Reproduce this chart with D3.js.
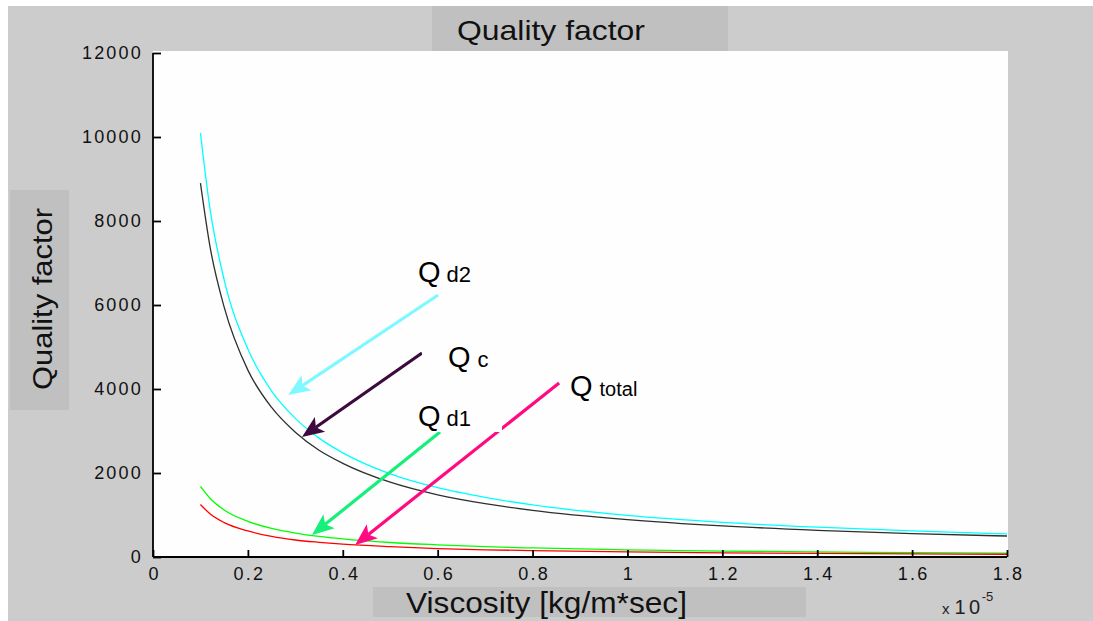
<!DOCTYPE html>
<html><head><meta charset="utf-8">
<script src="https://cdn.jsdelivr.net/npm/d3@7/dist/d3.min.js"></script>
<style>html,body{margin:0;padding:0;background:#cccccc;overflow:hidden}svg{display:block}</style>
</head><body><svg id="c" width="1093" height="621"></svg>
<script>
// ---- data ----
const viscosity = [0.1, 0.12, 0.15, 0.2, 0.25, 0.3, 0.35, 0.4, 0.5, 0.6, 0.7, 0.8, 1.0, 1.2, 1.4, 1.6, 1.8]; // x 10^-5
const qd2    = [10100, 8300, 6600, 4950, 3950, 3300, 2830, 2480, 1980, 1650, 1420, 1240, 990, 825, 710, 620, 550];
const qc     = [8900, 7400, 5950, 4450, 3560, 2970, 2540, 2230, 1780, 1480, 1270, 1110, 890, 740, 635, 555, 500];
const qd1    = [1680, 1400, 1120, 850, 680, 570, 490, 430, 345, 290, 245, 215, 170, 140, 120, 105, 90];
const qtotal = [1250, 1030, 820, 620, 490, 405, 350, 305, 245, 200, 172, 150, 120, 100, 85, 75, 65];
const xTicks = [0, 0.2, 0.4, 0.6, 0.8, 1, 1.2, 1.4, 1.6, 1.8];
const yTicks = [0, 2000, 4000, 6000, 8000, 10000, 12000];
const titleText = "Quality factor";
const xLabel = "Viscosity [kg/m*sec]";
const yLabel = "Quality factor";
// annotation arrows: label, subscript, arrow start -> tip (data coords)
const annoNames = ["Q d2", "Q c", "Q d1", "Q total"];
const annoStart = [[0.601, 6238], [0.567, 4857], [0.605, 2976], [0.856, 4143]];
const annoTip   = [[0.285, 3857], [0.314, 2857], [0.335, 524], [0.426, 286]];

const svg = d3.select("#c");
const x = d3.scaleLinear().domain([0, 1.8]).range([153, 1007]);
const y = d3.scaleLinear().domain([0, 12000]).range([557, 53]);
const FONT = "Liberation Sans, Arial, sans-serif";

// background
svg.append("rect").attr("x", 0).attr("y", 0).attr("width", 1093).attr("height", 621).attr("fill", "#ffffff");
svg.append("rect").attr("x", 8).attr("y", 6).attr("width", 1085).attr("height", 615).attr("fill", "#cccccc");
// plot area
svg.append("rect").attr("x", x(0)).attr("y", 51).attr("width", x(1.8) - x(0) + 1).attr("height", y(0) - 51).attr("fill", "#fefefe");

// title box
svg.append("rect").attr("x", 432).attr("y", 6).attr("width", 296).attr("height", 45).attr("fill", "#c0c0c0");
svg.append("text").attr("x", 457).attr("y", 40).attr("font-family", FONT)
  .attr("font-size", 28).attr("fill", "#111").attr("textLength", 188).attr("lengthAdjust", "spacingAndGlyphs").text(titleText);

// y label box
svg.append("rect").attr("x", 10).attr("y", 190).attr("width", 59).attr("height", 220).attr("fill", "#c0c0c0");
svg.append("text").attr("transform", "translate(52,390) rotate(-90)").attr("font-family", FONT)
  .attr("font-size", 28).attr("fill", "#111").attr("textLength", 182).attr("lengthAdjust", "spacingAndGlyphs").text(yLabel);

// x label box
svg.append("rect").attr("x", 373).attr("y", 587).attr("width", 433).attr("height", 30).attr("fill", "#c0c0c0");
svg.append("text").attr("x", 406).attr("y", 613).attr("font-family", FONT)
  .attr("font-size", 29).attr("fill", "#111").attr("textLength", 281).attr("lengthAdjust", "spacingAndGlyphs").text(xLabel);

// exponent
const ex = svg.append("text").attr("x", 942).attr("y", 614).attr("font-family", FONT).attr("fill", "#222");
ex.append("tspan").attr("font-size", 15).text("x");
ex.append("tspan").attr("dx", 5).attr("font-size", 20).attr("letter-spacing", 3.5).text("10");
ex.append("tspan").attr("dx", -2).attr("dy", -13).attr("font-size", 13).text("-5");

// curves
const line = d3.line().x((d, i) => x(viscosity[i])).y(d => y(d)).curve(d3.curveMonotoneX);
const series = [
  {v: qd2, c: "#00ffff"},
  {v: qc, c: "#2e2e2e"},
  {v: qd1, c: "#00ff00"},
  {v: qtotal, c: "#ff0000"}
];
series.forEach(s => {
  svg.append("path").attr("d", line(s.v)).attr("fill", "none").attr("stroke", s.c).attr("stroke-width", 1.3);
});

// axes
const fmtX = d => d3.format("~g")(d);
const xAxis = d3.axisBottom(x).tickValues(xTicks).tickFormat(fmtX).tickSizeInner(-7).tickSizeOuter(0).tickPadding(10);
const yAxis = d3.axisLeft(y).tickValues(yTicks).tickFormat(d => String(d)).tickSizeInner(-8).tickSizeOuter(0).tickPadding(12);
const gx = svg.append("g").attr("transform", `translate(0,${y(0)})`).call(xAxis);
const gy = svg.append("g").attr("transform", `translate(${x(0)},0)`).call(yAxis);
[gx, gy].forEach(g => {
  g.select(".domain").attr("stroke", "#000").attr("stroke-width", 1.8);
  g.selectAll(".tick line").attr("stroke", "#000").attr("stroke-width", 1.8);
  g.selectAll(".tick text").attr("font-family", FONT).attr("font-size", 18)
    .attr("fill", "#111").attr("letter-spacing", 2.2);
});
gx.select(".domain").attr("d", `M${x(0)},0H${x(1.8)}`);
gy.select(".domain").attr("d", `M0,${y(0)}V${y(12000)}`);
gx.selectAll(".tick text").attr("dy", "0.71em").attr("dx", 1);
gy.selectAll(".tick text").attr("dx", 2);

// annotation arrows
const arrowColors = ["#80f8ff", "#3c0a3c", "#14f07a", "#ff0a80"];
annoNames.forEach((n, i) => {
  const x0 = x(annoStart[i][0]), y0 = y(annoStart[i][1]);
  const x1 = x(annoTip[i][0]), y1 = y(annoTip[i][1]);
  const ang = Math.atan2(y1 - y0, x1 - x0);
  const L = 22, W = 9;
  const bx = x1 - L * Math.cos(ang), by = y1 - L * Math.sin(ang);
  const nx = -Math.sin(ang), ny = Math.cos(ang);
  const nbx = x1 - (L - 5) * Math.cos(ang), nby = y1 - (L - 5) * Math.sin(ang);
  svg.append("line").attr("x1", x0).attr("y1", y0).attr("x2", nbx).attr("y2", nby)
    .attr("stroke", arrowColors[i]).attr("stroke-width", 3.2);
  svg.append("path").attr("d", `M${x1},${y1}L${bx + nx * W},${by + ny * W}L${nbx},${nby}L${bx - nx * W},${by - ny * W}Z`)
    .attr("fill", arrowColors[i]);
});

// label boxes (white, overlapping arrow ends) and labels
const boxes = [[320, 250, 260, 42], [422, 337, 98, 37], [403, 396, 99, 36], [560, 367, 99, 36]];
const labelPos = [[418, 282], [448, 367], [418, 426], [570, 396]];
const subSize = [22, 22, 22, 20];
const subDx = [6, 7, 6, 7];
annoNames.forEach((n, i) => {
  const b = boxes[i];
  svg.append("rect").attr("x", b[0]).attr("y", b[1]).attr("width", b[2]).attr("height", b[3]).attr("fill", "#fefefe");
  const parts = n.split(" ");
  const t = svg.append("text").attr("x", labelPos[i][0]).attr("y", labelPos[i][1])
    .attr("font-family", FONT).attr("fill", "#000");
  t.append("tspan").attr("font-size", 29).text(parts[0]);
  t.append("tspan").attr("dx", subDx[i]).attr("font-size", subSize[i]).text(parts[1]);
});
</script>
</body></html>
